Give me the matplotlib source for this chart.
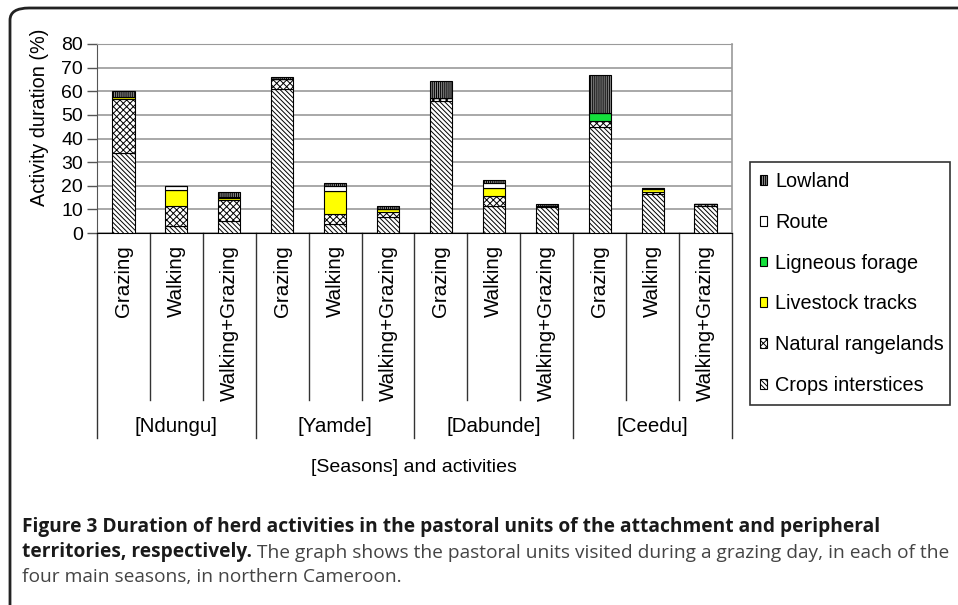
import matplotlib
matplotlib.use("Agg")
import matplotlib.pyplot as plt
from matplotlib.patches import FancyBboxPatch
from matplotlib.transforms import blended_transform_factory
import numpy as np

# ---- data ----
seasons = ["[Ndungu]", "[Yamde]", "[Dabunde]", "[Ceedu]"]
activities = ["Grazing", "Walking", "Walking+Grazing"]

crops = [34.0, 3.0, 5.0, 61.0, 4.0, 6.8, 56.0, 11.3, 11.0, 45.0, 16.3, 11.3]
natural = [22.8, 8.3, 8.8, 4.0, 4.2, 2.1, 1.2, 4.2, 0.6, 2.2, 0.9, 0.8]
livestock = [0.7, 6.8, 1.0, 0.0, 9.6, 1.1, 0.0, 3.4, 0.0, 0.0, 1.5, 0.0]
ligneous = [0.0, 0.0, 0.0, 0.0, 0.0, 0.0, 0.0, 0.0, 0.0, 3.8, 0.0, 0.0]
route = [0.0, 2.0, 0.4, 0.0, 2.0, 0.3, 0.0, 2.3, 0.0, 0.0, 0.4, 0.0]
lowland = [2.5, 0.0, 2.0, 1.0, 1.5, 1.0, 7.0, 1.1, 0.5, 15.9, 0.0, 0.0]

series = [
    ("Crops interstices", crops, "white", "\\\\\\\\\\\\\\"),
    ("Natural rangelands", natural, "white", "xxxxx"),
    ("Livestock tracks", livestock, "#ffff00", None),
    ("Ligneous forage", ligneous, "#14e03c", None),
    ("Route", route, "white", None),
    ("Lowland", lowland, "#8a8a8a", "||||||||"),
]

W, H = 958, 605
plt.rcParams["font.family"] = ["Liberation Sans", "DejaVu Sans"]
plt.rcParams["hatch.linewidth"] = 0.7

fig = plt.figure(figsize=(W / 100, H / 100), dpi=100)


def fx(px):
    return px / W


def fy(py):
    return 1 - py / H


# outer rounded frame (runs off the right and bottom edges)
frame = FancyBboxPatch((fx(10), fy(640)), fx(1000), fy(8) - fy(640),
                       boxstyle="round,pad=0,rounding_size=0.02",
                       transform=fig.transFigure, fill=False,
                       edgecolor="#222222", linewidth=2)
fig.add_artist(frame)

ax = fig.add_axes([fx(97), fy(233), fx(732) - fx(97), fy(44) - fy(233)])

n = len(crops)
x = np.arange(n)
bottom = np.zeros(n)
for label, values, color, hatch in series:
    vals = np.array(values)
    ax.bar(x, vals, width=0.42, bottom=bottom, color=color, hatch=hatch,
           edgecolor="black", linewidth=0.8, label=label, zorder=3)
    bottom += vals

ax.set_xlim(-0.5, n - 0.5)
ax.set_ylim(0, 80)
ax.set_yticks(range(0, 81, 10))
ax.tick_params(axis="y", labelsize=14, length=7, width=1, color="#555555", pad=3)
ax.set_xticks([])
ax.yaxis.grid(True, color="#9a9a9a", linewidth=1.2, zorder=0)
ax.set_axisbelow(True)
ax.spines["left"].set_color("#555555")
ax.spines["bottom"].set_color("black")
ax.spines["top"].set_color("#9a9a9a")
ax.spines["right"].set_color("#9a9a9a")
ax.spines["right"].set_linewidth(1.2)

fig.text(fx(40), fy(117), "Activity duration (%)", rotation=90,
         ha="center", va="center", fontsize=14.3)

# category axis: activity labels, separators, season labels
trans = blended_transform_factory(ax.transData, ax.transAxes)
px_per_axes = fy(44) - fy(233)


def ay(py):
    return (fy(py) - fy(233)) / px_per_axes


for i in range(n):
    ax.text(i, ay(245), activities[i % 3], rotation=90, ha="center", va="top",
            fontsize=14.8, transform=trans, clip_on=False)
for i in range(n + 1):
    end = 438 if i % 3 == 0 else 400
    ax.plot([i - 0.5, i - 0.5], [0, ay(end)], color="#333333", linewidth=1,
            transform=trans, clip_on=False)
for g, name in enumerate(seasons):
    ax.text(g * 3 + 1, ay(427), name, ha="center", va="center", fontsize=14.8,
            transform=trans, clip_on=False)

fig.text(fx(414), fy(467), "[Seasons] and activities", ha="center", va="center",
         fontsize=14)

handles, labels = ax.get_legend_handles_labels()
leg = fig.legend(handles[::-1], labels[::-1], loc="upper left",
                 bbox_to_anchor=(fx(750), fy(162), fx(200), 0), mode="expand",
                 borderaxespad=0, fontsize=14.3, labelspacing=1.1,
                 handlelength=0.38, handleheight=0.38, handletextpad=0.4,
                 borderpad=0.5, fancybox=False, edgecolor="#333333",
                 framealpha=1)
leg.get_frame().set_linewidth(1.2)

# caption
cap_font = ["Open Sans", "DejaVu Sans"]
fig.text(fx(22), fy(527), "Figure 3 Duration of herd activities in the pastoral units "
         "of the attachment and peripheral", ha="left", va="center",
         fontsize=13.8, fontweight="bold", family=cap_font, color="#1a1a1a")
t2 = fig.text(fx(22), fy(552), "territories, respectively.", ha="left",
              va="center", fontsize=13.8, fontweight="bold", family=cap_font,
              color="#1a1a1a")
ax.annotate(" The graph shows the pastoral units visited during a grazing day, "
            "in each of the", xy=(1, 0), xycoords=t2, ha="left", va="bottom",
            fontsize=13.8, family=cap_font, color="#444444",
            annotation_clip=False)
fig.text(fx(22), fy(577), "four main seasons, in northern Cameroon.", ha="left",
         va="center", fontsize=13.8, family=cap_font, color="#444444")

fig.savefig("out.png", dpi=100)
